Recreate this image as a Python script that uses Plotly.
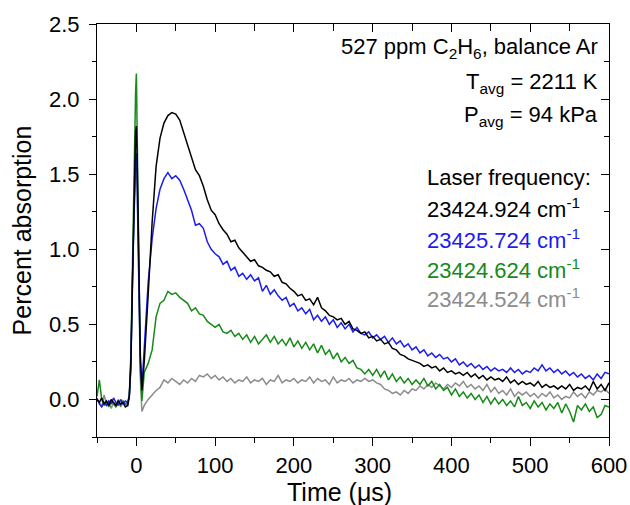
import plotly.graph_objects as go

# ---- data -------------------------------------------------------------
time_us = (list(range(-50, -10, 3))
           + [-9, -7, -5, -3, -1, 0, 1, 3, 5, 7, 10]
           + list(range(15, 601, 5)))

series_names = ["23424.524 cm-1", "23424.624 cm-1", "23425.724 cm-1", "23424.924 cm-1"]
series_colors = ["#8c8c8c", "#178a17", "#1c1cf0", "#000000"]

gray_vals = (
    [0.00, -0.02, -0.05, 0.03, -0.03, -0.01, -0.06, -0.02, -0.04, 0.00, -0.05, -0.02, -0.03, -0.04]
    + [0.02, 0.20, 0.78, 1.28, 1.50, 1.55, 1.40, 0.85, 0.15, -0.08, -0.04]
    + [0.00, 0.03, 0.06, 0.08, 0.13, 0.11, 0.14, 0.12, 0.10, 0.13,     # 15-60
       0.11, 0.14, 0.12, 0.16, 0.15, 0.17, 0.14, 0.16, 0.13, 0.15,     # 65-110
       0.12, 0.14, 0.11, 0.13, 0.12, 0.15, 0.11, 0.13, 0.12, 0.14,     # 115-160
       0.10, 0.13, 0.12, 0.16, 0.11, 0.13, 0.12, 0.14, 0.11, 0.13,     # 165-210
       0.12, 0.15, 0.11, 0.14, 0.12, 0.13, 0.10, 0.15, 0.11, 0.13,     # 215-260
       0.12, 0.14, 0.11, 0.13, 0.12, 0.14, 0.12, 0.13, 0.11, 0.10,     # 265-310
       0.07, 0.06, 0.04, 0.05, 0.03, 0.06, 0.04, 0.07, 0.06, 0.09,     # 315-360
       0.07, 0.10, 0.08, 0.11, 0.09, 0.07, 0.10, 0.08, 0.11, 0.09,     # 365-410
       0.12, 0.08, 0.10, 0.07, 0.09, 0.06, 0.10, 0.05, 0.08, 0.04,     # 415-460
       0.06, 0.03, 0.07, 0.02, 0.05, 0.03, 0.05, 0.02, 0.04, 0.01,     # 465-510
       0.04, 0.02, 0.05, 0.01, 0.03, 0.00, 0.02, 0.01, 0.05, 0.02,     # 515-560
       0.04, 0.01, 0.05, 0.03, 0.06, 0.05, 0.07, 0.04]                 # 565-600
)

green_vals = (
    [0.02, 0.13, 0.00, -0.04, -0.02, -0.05, -0.01, -0.03, -0.05, -0.02, -0.04, -0.01, -0.03, -0.02]
    + [0.03, 0.30, 0.95, 1.55, 2.05, 2.17, 1.80, 1.00, 0.20, -0.01, 0.18]
    + [0.24, 0.33, 0.55, 0.64, 0.66, 0.72, 0.70, 0.71, 0.68, 0.66,     # 15-60
       0.64, 0.59, 0.61, 0.57, 0.56, 0.52, 0.50, 0.48, 0.50, 0.45,     # 65-110
       0.44, 0.46, 0.42, 0.44, 0.40, 0.43, 0.38, 0.42, 0.37, 0.40,     # 115-160
       0.43, 0.38, 0.42, 0.37, 0.40, 0.36, 0.41, 0.35, 0.39, 0.34,     # 165-210
       0.38, 0.33, 0.37, 0.31, 0.36, 0.30, 0.33, 0.27, 0.31, 0.25,     # 215-260
       0.28, 0.24, 0.26, 0.21, 0.20, 0.17, 0.20, 0.16, 0.20, 0.15,     # 265-310
       0.19, 0.13, 0.17, 0.12, 0.15, 0.11, 0.14, 0.10, 0.13, 0.10,     # 315-360
       0.14, 0.09, 0.12, 0.07, 0.10, 0.06, 0.08, 0.03, 0.07, 0.02,     # 365-410
       0.05, 0.01, 0.04, 0.00, 0.03, -0.02, 0.02, -0.03, 0.01, -0.03,  # 415-460
       0.00, -0.04, -0.01, -0.05, 0.02, -0.04, -0.02, -0.06, -0.01, -0.05,  # 465-510
       -0.02, -0.07, -0.03, -0.06, -0.02, -0.09, -0.03, -0.08, -0.15, -0.04,  # 515-560
       -0.07, -0.03, -0.08, -0.05, -0.12, -0.10, -0.04, -0.05]         # 565-600
)

blue_vals = (
    [0.01, -0.03, -0.05, -0.02, -0.04, -0.01, -0.03, 0.01, -0.02, -0.04, 0.00, -0.03, -0.01, -0.02]
    + [0.02, 0.22, 0.80, 1.30, 1.60, 1.64, 1.45, 0.85, 0.25, 0.08, 0.35]
    + [0.78, 1.07, 1.27, 1.40, 1.47, 1.51, 1.47, 1.49, 1.46, 1.40,     # 15-60
       1.33, 1.26, 1.16, 1.17, 1.14, 1.05, 1.00, 0.97, 0.95, 0.90,     # 65-110
       0.92, 0.86, 0.88, 0.82, 0.84, 0.80, 0.83, 0.79, 0.81, 0.72,     # 115-160
       0.76, 0.70, 0.73, 0.69, 0.66, 0.68, 0.62, 0.64, 0.59, 0.61,     # 165-210
       0.57, 0.60, 0.53, 0.56, 0.52, 0.55, 0.50, 0.53, 0.48, 0.51,     # 215-260
       0.47, 0.50, 0.45, 0.48, 0.44, 0.43, 0.45, 0.41, 0.43, 0.40,     # 265-310
       0.42, 0.38, 0.41, 0.37, 0.39, 0.35, 0.37, 0.33, 0.35, 0.31,     # 315-360
       0.33, 0.29, 0.31, 0.28, 0.30, 0.27, 0.28, 0.25, 0.27, 0.23,     # 365-410
       0.25, 0.22, 0.24, 0.21, 0.23, 0.20, 0.22, 0.19, 0.21, 0.19,     # 415-460
       0.20, 0.18, 0.21, 0.18, 0.20, 0.17, 0.19, 0.18, 0.21, 0.19,     # 465-510
       0.23, 0.19, 0.21, 0.18, 0.20, 0.17, 0.19, 0.16, 0.18, 0.15,     # 515-560
       0.17, 0.14, 0.16, 0.13, 0.17, 0.14, 0.18, 0.17]                 # 565-600
)

black_vals = (
    [0.00, -0.02, 0.01, -0.03, -0.01, -0.04, 0.00, -0.02, -0.04, -0.01, -0.03, -0.02, -0.05, -0.04]
    + [0.02, 0.25, 0.85, 1.40, 1.78, 1.82, 1.60, 0.95, 0.30, 0.06, 0.25]
    + [0.70, 1.18, 1.55, 1.74, 1.84, 1.89, 1.91, 1.90, 1.86, 1.78,     # 15-60
       1.70, 1.62, 1.53, 1.49, 1.42, 1.33, 1.26, 1.23, 1.17, 1.13,     # 65-110
       1.10, 1.05, 1.06, 1.01, 0.98, 0.95, 0.92, 0.93, 0.89, 0.88,     # 115-160
       0.86, 0.85, 0.82, 0.83, 0.78, 0.77, 0.74, 0.72, 0.69, 0.70,     # 165-210
       0.66, 0.67, 0.63, 0.68, 0.61, 0.59, 0.56, 0.55, 0.53, 0.54,     # 215-260
       0.50, 0.52, 0.47, 0.46, 0.44, 0.45, 0.41, 0.42, 0.39, 0.40,     # 265-310
       0.37, 0.38, 0.34, 0.33, 0.30, 0.29, 0.27, 0.26, 0.25, 0.24,     # 315-360
       0.22, 0.23, 0.21, 0.22, 0.19, 0.21, 0.18, 0.19, 0.17, 0.18,     # 365-410
       0.16, 0.18, 0.15, 0.17, 0.14, 0.16, 0.13, 0.15, 0.13, 0.14,     # 415-460
       0.12, 0.15, 0.11, 0.13, 0.10, 0.12, 0.10, 0.11, 0.09, 0.12,     # 465-510
       0.08, 0.10, 0.08, 0.09, 0.07, 0.09, 0.07, 0.10, 0.06, 0.08,     # 515-560
       0.07, 0.09, 0.06, 0.12, 0.07, 0.10, 0.06, 0.11]                 # 565-600
)

x_title = "Time (μs)"
y_title = "Percent absorption"
header_lines = ["527 ppm C<sub>2</sub>H<sub>6</sub>, balance Ar",
                "T<sub>avg</sub> = 2211 K",
                "P<sub>avg</sub> = 94 kPa"]
legend_title = "Laser frequency:"
legend_labels = ["23424.924 cm<sup>-1</sup>", "23425.724 cm<sup>-1</sup>",
                 "23424.624 cm<sup>-1</sup>", "23424.524 cm<sup>-1</sup>"]
legend_colors = ["#000000", "#1c1cf0", "#178a17", "#8c8c8c"]

x_ticks = [0, 100, 200, 300, 400, 500, 600]
y_ticks = [0.0, 0.5, 1.0, 1.5, 2.0, 2.5]

# ---- figure -----------------------------------------------------------
FONT = "Liberation Sans, Arial, sans-serif"
fig = go.Figure()
for name, col, vals in zip(series_names, series_colors,
                           [gray_vals, green_vals, blue_vals, black_vals]):
    fig.add_trace(go.Scatter(x=time_us, y=vals, mode="lines", name=name,
                             line=dict(color=col, width=1.5), showlegend=False))

# dummy trace to activate mirrored axes with inward ticks
fig.add_trace(go.Scatter(x=[None], y=[None], xaxis="x2", yaxis="y2",
                         showlegend=False, hoverinfo="skip"))

XR = [-50, 600]
YR = [-0.25, 2.5]
fig.update_layout(
    width=630, height=505,
    margin=dict(l=97, r=21, t=24, b=68, autoexpand=False),
    paper_bgcolor="white", plot_bgcolor="white",
    font=dict(family=FONT, color="black"),
    xaxis=dict(range=XR, tickvals=x_ticks, ticks="outside", ticklen=8, tickwidth=1,
               tickcolor="black", showline=True, linecolor="black", linewidth=1,
               mirror=True, showgrid=False, zeroline=False, automargin=False,
               tickfont=dict(size=22, family=FONT), ticklabelstandoff=1,
               minor=dict(dtick=50, tick0=0, ticks="outside", ticklen=5,
                          tickcolor="black", showgrid=False)),
    yaxis=dict(range=YR, tickvals=y_ticks, tickformat=".1f", ticks="outside", ticklen=7,
               tickwidth=1, tickcolor="black", showline=True, linecolor="black",
               linewidth=1, mirror=True, showgrid=False, zeroline=False, automargin=False,
               tickfont=dict(size=22, family=FONT), ticklabelstandoff=5,
               minor=dict(dtick=0.25, tick0=0, ticks="outside", ticklen=4,
                          tickcolor="black", showgrid=False),
               title=dict(text=y_title, font=dict(size=25, family=FONT), standoff=10)),
    xaxis2=dict(range=XR, overlaying="x", side="top", anchor="y2", automargin=False,
                tickvals=x_ticks, ticks="inside", ticklen=8, tickcolor="black",
                showticklabels=False, showgrid=False, zeroline=False, showline=False,
                minor=dict(dtick=50, tick0=0, ticks="inside", ticklen=7,
                           tickcolor="black", showgrid=False)),
    yaxis2=dict(range=YR, overlaying="y", side="right", anchor="x2", automargin=False,
                tickvals=y_ticks, ticks="inside", ticklen=8, tickcolor="black",
                showticklabels=False, showgrid=False, zeroline=False, showline=False,
                minor=dict(dtick=0.25, tick0=0, ticks="inside", ticklen=5,
                           tickcolor="black", showgrid=False)),
)

# x-axis title (placed slightly left of centre, as in the reference)
fig.add_annotation(x=258, y=-0.133, xref="x", yref="paper", text=x_title,
                   showarrow=False, xanchor="center", yanchor="middle",
                   font=dict(size=25, family=FONT, color="black"))

header_y = [2.34, 2.11, 1.89]
for txt, yy in zip(header_lines, header_y):
    fig.add_annotation(x=588, y=yy, xref="x", yref="y", text=txt, showarrow=False,
                       xanchor="right", yanchor="middle",
                       font=dict(size=22, family=FONT, color="black"))

fig.add_annotation(x=366, y=1.477, xref="x", yref="y", text=legend_title,
                   showarrow=False, xanchor="left", yanchor="middle",
                   font=dict(size=22, family=FONT, color="black"))
legend_y = [1.277, 1.07, 0.87, 0.675]
for txt, col, yy in zip(legend_labels, legend_colors, legend_y):
    fig.add_annotation(x=366, y=yy, xref="x", yref="y", text=txt, showarrow=False,
                       xanchor="left", yanchor="middle",
                       font=dict(size=22, family=FONT, color=col))

fig.write_html("out.html")
